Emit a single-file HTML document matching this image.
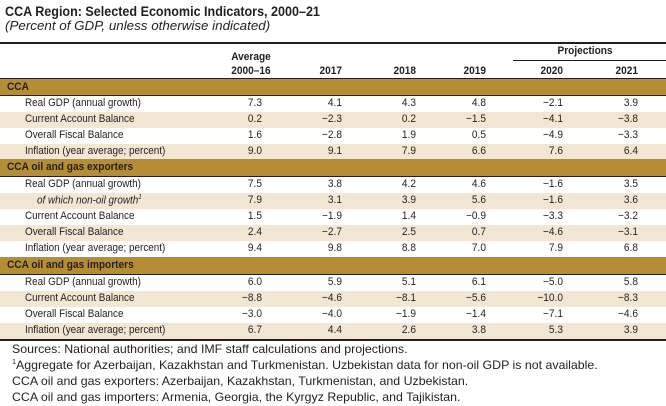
<!DOCTYPE html><html><head><style>
body{margin:0;width:666px;height:406px;background:#fff;position:relative;overflow:hidden;font-family:"Liberation Sans",sans-serif;font-size:11px;color:#231f20}
div{position:absolute;white-space:nowrap}
.g{left:0;width:666px;background:#b58d35}
.s{left:0;width:666px;background:#f3e6d3}
.r{left:0;width:666px;height:1px;background:#231f20}
.h{font-weight:bold;left:7px;transform:scaleX(.92);transform-origin:left}
.l{left:25px;transform:scaleX(.9);transform-origin:left}
.n{text-align:right;width:60px;transform:scaleX(.92);transform-origin:right}
.b{font-weight:bold}
</style></head><body>
<div style="left:5px;top:4px;font-size:13.5px;font-weight:bold;transform:scaleX(.93);transform-origin:left">CCA Region: Selected Economic Indicators, 2000–21</div>
<div style="left:5px;top:19px;font-size:12.5px;font-style:italic;transform:scaleX(1.07);transform-origin:left">(Percent of GDP, unless otherwise indicated)</div>
<div class="r" style="top:42px;height:2px"></div>
<div style="left:513px;width:153px;top:60px;height:1px;background:#231f20"></div>
<div class="b" style="left:550px;width:70px;text-align:center;top:45px;transform:scaleX(.92)">Projections</div>
<div class="b" style="left:221px;width:60px;text-align:center;top:50px;line-height:14px;transform:scaleX(.92)">Average<br>2000–16</div>
<div id="hdr"></div>
<script>
var cols=[262,342,416,486,563,638];
var H=document.getElementById('hdr').parentNode;
function add(html){H.insertAdjacentHTML('beforeend',html)}
['2017','2018','2019','2020','2021'].forEach(function(t,i){add('<div class="n b" style="left:'+(cols[i+1]-60)+'px;top:65px">'+t+'</div>')});
add('<div class="r" style="top:78px;height:2px"></div>');
var data=[
['h','CCA',79,17],
['l','Real GDP (annual growth)',96,16,0,['7.3','4.1','4.3','4.8','−2.1','3.9']],
['l','Current Account Balance',112,16,1,['0.2','−2.3','0.2','−1.5','−4.1','−3.8']],
['l','Overall Fiscal Balance',128,16,0,['1.6','−2.8','1.9','0.5','−4.9','−3.3']],
['l','Inflation (year average; percent)',144,16,1,['9.0','9.1','7.9','6.6','7.6','6.4']],
['h','CCA oil and gas exporters',159,18],
['l','Real GDP (annual growth)',177,16,0,['7.5','3.8','4.2','4.6','−1.6','3.5']],
['i','of which non-oil growth<sup style="font-size:7px">1</sup>',193,16,1,['7.9','3.1','3.9','5.6','−1.6','3.6']],
['l','Current Account Balance',209,16,0,['1.5','−1.9','1.4','−0.9','−3.3','−3.2']],
['l','Overall Fiscal Balance',225,16,1,['2.4','−2.7','2.5','0.7','−4.6','−3.1']],
['l','Inflation (year average; percent)',241,16,0,['9.4','9.8','8.8','7.0','7.9','6.8']],
['h','CCA oil and gas importers',257,18],
['l','Real GDP (annual growth)',275,16,0,['6.0','5.9','5.1','6.1','−5.0','5.8']],
['l','Current Account Balance',291,16,1,['−8.8','−4.6','−8.1','−5.6','−10.0','−8.3']],
['l','Overall Fiscal Balance',307,16,0,['−3.0','−4.0','−1.9','−1.4','−7.1','−4.6']],
['l','Inflation (year average; percent)',323,16,1,['6.7','4.4','2.6','3.8','5.3','3.9']]
];
data.forEach(function(d){
 var y=d[2],h=d[3];
 if(d[0]=='h'){
  add('<div class="g" style="top:'+y+'px;height:'+h+'px"></div>');
  add('<div class="r" style="top:'+(y+h-1)+'px"></div>');
  add('<div class="h" style="top:'+(y+2)+'px">'+d[1]+'</div>');
 }else{
  if(d[4])add('<div class="s" style="top:'+y+'px;height:'+h+'px"></div>');
  var st=d[0]=='i'?'left:37px;font-style:italic;':'';
  add('<div class="l" style="'+st+'top:'+(y+1)+'px">'+d[1]+'</div>');
  d[5].forEach(function(v,i){add('<div class="n" style="left:'+(cols[i]-60)+'px;top:'+(y+1)+'px">'+v+'</div>')});
 }
});
add('<div class="r" style="top:339px;height:2px"></div>');
var notes=['Sources: National authorities; and IMF staff calculations and projections.','<sup style="font-size:7px">1</sup>Aggregate for Azerbaijan, Kazakhstan and Turkmenistan. Uzbekistan data for non-oil GDP is not available.','CCA oil and gas exporters: Azerbaijan, Kazakhstan, Turkmenistan, and Uzbekistan.','CCA oil and gas importers: Armenia, Georgia, the Kyrgyz Republic, and Tajikistan.'];
notes.forEach(function(t,i){add('<div style="left:12px;top:'+(342+i*16)+'px;font-size:12px;transform:scaleX(1.03);transform-origin:left">'+t+'</div>')});
</script>
</body></html>
